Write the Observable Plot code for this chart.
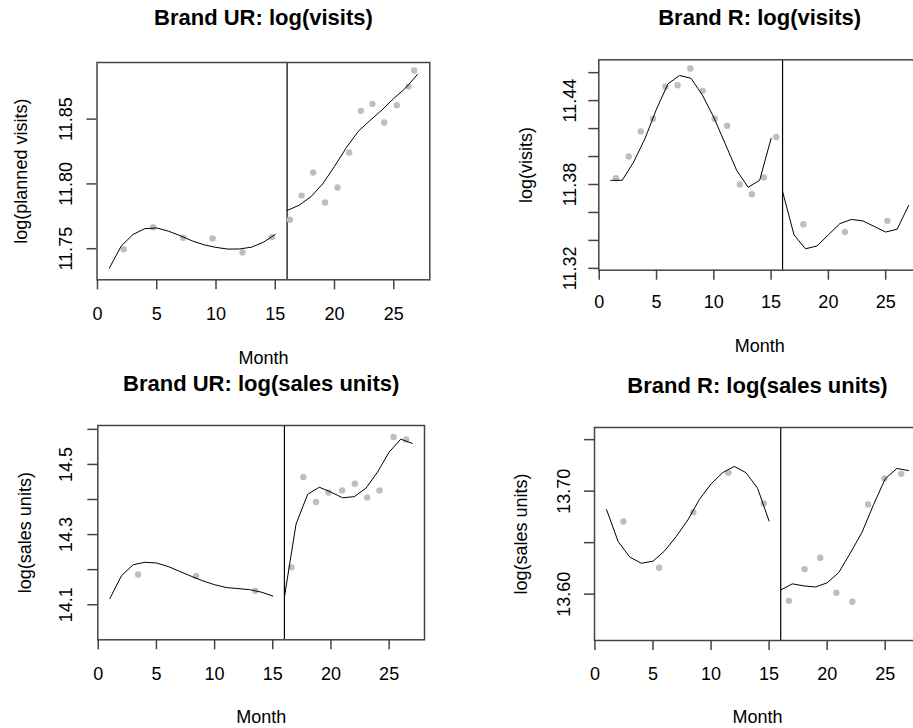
<!DOCTYPE html>
<html>
<head>
<meta charset="utf-8">
<script src="https://cdn.jsdelivr.net/npm/d3@7"></script>
<script src="https://cdn.jsdelivr.net/npm/@observablehq/plot@0.6"></script>
<style>
  html, body { margin: 0; padding: 0; background: #ffffff; }
  #wrap { position: relative; width: 913px; height: 728px; overflow: hidden; background: #ffffff; }
  #wrap svg { position: absolute; top: 0; left: 0; }
</style>
</head>
<body>
<div id="wrap"></div>
<script>
// ---------- data ----------
const fitMonths = [1, 2, 3, 4, 5, 6, 7, 8, 9, 10, 11, 12, 13, 14, 15, 16, 17, 18, 19, 20, 21, 22, 23, 24, 25, 26, 27];
const breakMonth = 16;
const xTicks = [0, 5, 10, 15, 20, 25];

// Brand UR: log(visits)
const urVisitsFit = [11.735, 11.752, 11.761, 11.7655, 11.766, 11.7635, 11.760, 11.756, 11.753, 11.751, 11.7497, 11.7498, 11.7512, 11.755, 11.761,
                     11.7795, 11.7835, 11.790, 11.800, 11.8135, 11.828, 11.8405, 11.849, 11.857, 11.866, 11.874, 11.8845];
const urVisitsObsMonth = [2.22, 4.70, 7.23, 9.71, 12.24, 14.71, 16.23, 17.22, 18.20, 19.21, 20.25, 21.24, 22.22, 23.20, 24.19, 25.26, 26.24, 26.72];
const urVisitsObs = [11.7496, 11.7665, 11.7584, 11.7579, 11.7471, 11.7589, 11.7723, 11.791, 11.8088, 11.7856, 11.7972, 11.8242, 11.8564, 11.8618, 11.8474, 11.8607, 11.8752, 11.8875];
const urVisitsTicks = [11.75, 11.80, 11.85];
const urVisitsTickLabels = [11.75, 11.80, 11.85];

// Brand R: log(visits)
const rVisitsFit = [11.383, 11.383, 11.396, 11.413, 11.434, 11.452, 11.458, 11.456, 11.444, 11.428, 11.409, 11.390, 11.378, 11.383, 11.413,
                    11.375, 11.344, 11.334, 11.336, 11.344, 11.352, 11.355, 11.354, 11.350, 11.346, 11.348, 11.365];
const rVisitsObsMonth = [1.46, 2.57, 3.62, 4.70, 5.78, 6.84, 7.95, 9.03, 10.08, 11.16, 12.27, 13.32, 14.37, 15.45, 17.82, 21.44, 25.15];
const rVisitsObs = [11.3845, 11.400, 11.418, 11.427, 11.450, 11.451, 11.463, 11.447, 11.427, 11.422, 11.380, 11.373, 11.385, 11.414, 11.3516, 11.346, 11.354];
const rVisitsTicks = [11.32, 11.34, 11.36, 11.38, 11.40, 11.42, 11.44, 11.46];
const rVisitsTickLabels = [11.32, 11.38, 11.44];

// Brand UR: log(sales units)
const urSalesFit = [14.118, 14.183, 14.214, 14.221, 14.219, 14.209, 14.195, 14.181, 14.168, 14.157, 14.149, 14.146, 14.143, 14.136, 14.125,
                    14.122, 14.330, 14.415, 14.435, 14.421, 14.405, 14.408, 14.432, 14.478, 14.535, 14.572, 14.560];
const urSalesObsMonth = [3.42, 8.41, 13.49, 16.60, 17.63, 18.72, 19.78, 20.96, 22.05, 23.11, 24.17, 25.38, 26.47];
const urSalesObs = [14.186, 14.182, 14.140, 14.207, 14.464, 14.393, 14.420, 14.426, 14.445, 14.406, 14.426, 14.578, 14.571];
const urSalesTicks = [14.1, 14.2, 14.3, 14.4, 14.5, 14.6];
const urSalesTickLabels = [14.1, 14.3, 14.5];

// Brand R: log(sales units)
const rSalesFit = [13.682, 13.651, 13.636, 13.630, 13.632, 13.642, 13.656, 13.672, 13.692, 13.707, 13.718, 13.724, 13.718, 13.703, 13.671,
                   13.604, 13.610, 13.608, 13.607, 13.611, 13.621, 13.640, 13.660, 13.687, 13.712, 13.722, 13.720];
const rSalesObsMonth = [2.45, 5.53, 8.47, 11.49, 14.54, 16.70, 18.05, 19.41, 20.79, 22.17, 23.52, 24.94, 26.38];
const rSalesObs = [13.6705, 13.6256, 13.6796, 13.7178, 13.688, 13.5935, 13.6243, 13.6353, 13.6013, 13.5926, 13.687, 13.7123, 13.7168];
const rSalesTicks = [13.60, 13.65, 13.70, 13.75];
const rSalesTickLabels = [13.60, 13.70];

// ---------- drawing ----------
const FONT = "'Liberation Sans', Arial, Helvetica, sans-serif";
const H = 728;

function panel(cfg) {
  const fit = fitMonths.map((m, i) => ({m, v: cfg.fit[i], seg: m < breakMonth ? "pre" : "post"}));
  const obs = cfg.obsMonth.map((m, i) => ({m, v: cfg.obs[i]}));
  const f = cfg.frame;
  return Plot.plot({
    width: cfg.W,
    height: H,
    marginLeft: f.left,
    marginRight: cfg.W - f.right,
    marginTop: f.top,
    marginBottom: H - f.bottom,
    x: {domain: [-0.04, 28.04]},
    y: {domain: cfg.yDomain},
    style: {background: "transparent", maxWidth: "none", overflow: "hidden", fontFamily: FONT, fontSize: "18px", color: "black"},
    marks: [
      Plot.ruleX([breakMonth], {stroke: "black", strokeWidth: 1.2}),
      Plot.dot(obs, {x: "m", y: "v", r: 3.2, fill: "#BEBEBE"}),
      Plot.line(fit, {x: "m", y: "v", z: "seg", stroke: "black", strokeWidth: 1}),
      Plot.frame({stroke: "#444", strokeWidth: 1.5}),
      Plot.axisX(xTicks, {tickSize: 10, tickPadding: cfg.xPad, stroke: "#444", strokeWidth: 1.5, fill: "black", fontSize: 18, label: null}),
      Plot.axisY(cfg.yTicks, {tickSize: 10, tickRotate: -90, tickPadding: cfg.yPad, stroke: "#444", strokeWidth: 1.5, fill: "black", fontSize: 18,
        tickFormat: d => cfg.yLabels.includes(d) ? d.toFixed(cfg.digits) : "", label: null}),
      Plot.text([cfg.title], {frameAnchor: "top", dy: cfg.titleDy, textAnchor: "middle", lineAnchor: "middle", fontSize: 22, fontWeight: "bold", fill: "black"}),
      Plot.text(["Month"], {frameAnchor: "bottom", dy: cfg.monthDy, textAnchor: "middle", lineAnchor: "middle", fontSize: 18, fill: "black"}),
      Plot.text([cfg.ylabel], {frameAnchor: "left", dx: cfg.ylabelDx, rotate: -90, textAnchor: "middle", lineAnchor: "middle", fontSize: 18, fill: "black"})
    ]
  });
}

const wrap = document.getElementById("wrap");
wrap.appendChild(panel({
  W: 913, frame: {left: 96.5, right: 429.3, top: 62, bottom: 279.3},
  fit: urVisitsFit, obsMonth: urVisitsObsMonth, obs: urVisitsObs,
  yDomain: [11.726, 11.8937], yTicks: urVisitsTicks, yLabels: urVisitsTickLabels, digits: 2,
  title: "Brand UR: log(visits)", ylabel: "log(planned visits)",
  titleDy: -44.5, monthDy: 78.7, ylabelDx: -75.7, xPad: 17.4, yPad: 15.5
}));
wrap.appendChild(panel({
  W: 920, frame: {left: 598.3, right: 920, top: 59.3, bottom: 269.7},
  fit: rVisitsFit, obsMonth: rVisitsObsMonth, obs: rVisitsObs,
  yDomain: [11.3187, 11.4692], yTicks: rVisitsTicks, yLabels: rVisitsTickLabels, digits: 2,
  title: "Brand R: log(visits)", ylabel: "log(visits)",
  titleDy: -41.8, monthDy: 76.3, ylabelDx: -72.8, xPad: 15.3, yPad: 13.3
}));
wrap.appendChild(panel({
  W: 913, frame: {left: 97.3, right: 424, top: 425, bottom: 639.3},
  fit: urSalesFit, obsMonth: urSalesObsMonth, obs: urSalesObs,
  yDomain: [14.0, 14.611], yTicks: urSalesTicks, yLabels: urSalesTickLabels, digits: 1,
  title: "Brand UR: log(sales units)", ylabel: "log(sales units)",
  titleDy: -42, monthDy: 77.7, ylabelDx: -73, xPad: 17.4, yPad: 15.6
}));
wrap.appendChild(panel({
  W: 920, frame: {left: 594, right: 920, top: 427, bottom: 640},
  fit: rSalesFit, obsMonth: rSalesObsMonth, obs: rSalesObs,
  yDomain: [13.555, 13.7618], yTicks: rSalesTicks, yLabels: rSalesTickLabels, digits: 2,
  title: "Brand R: log(sales units)", ylabel: "log(sales units)",
  titleDy: -42, monthDy: 77, ylabelDx: -73.5, xPad: 16.7, yPad: 14.7
}));
</script>
</body>
</html>
